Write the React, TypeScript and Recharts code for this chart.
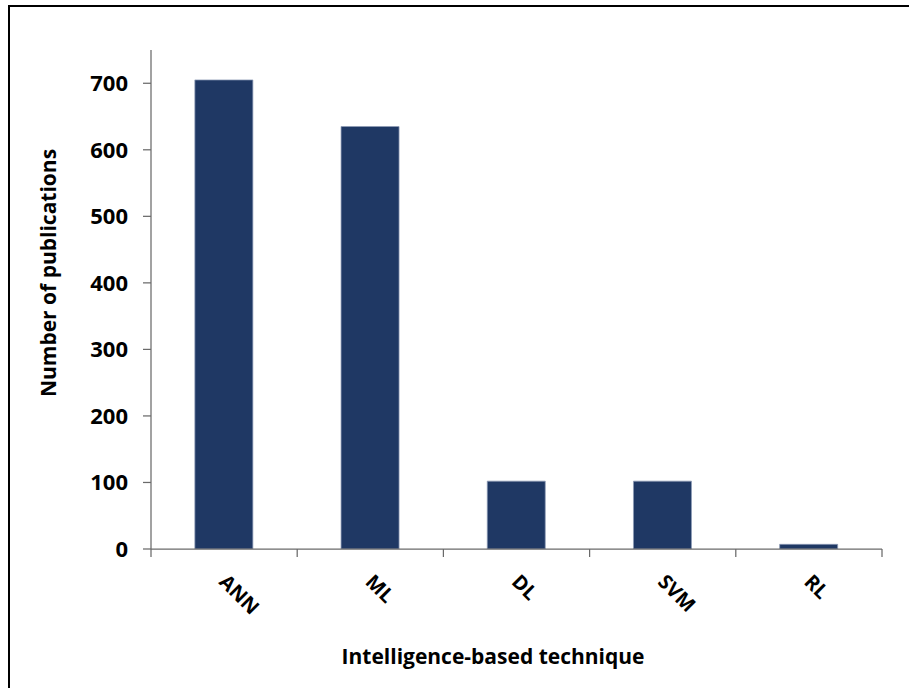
import React from 'react';
import { BarChart, Bar, XAxis, YAxis } from 'recharts';

const categories = ['ANN', 'ML', 'DL', 'SVM', 'RL'];
const publications = [705, 635, 102, 102, 7];
const yTicks = [0, 100, 200, 300, 400, 500, 600, 700];
const yMax = 750;

const data = categories.map((c, i) => ({ technique: c, count: publications[i] }));

const FONT = '"Open Sans", Lato, sans-serif';
const AXIS = '#6a6a6a';
const BAR = '#1f3864';

function XTick(props: any) {
  const { x, y, payload, index, visibleTicksCount } = props;
  const half = payload && payload.offset ? payload.offset : 73.1;
  const last = index === (visibleTicksCount ?? categories.length) - 1;
  const tx = x - 6;
  const ty = y + 34;
  return (
    <g>
      <line x1={x - half} x2={x - half} y1={y} y2={y + 8} stroke={AXIS} strokeWidth={1.25} />
      {last && <line x1={x + half} x2={x + half} y1={y} y2={y + 8} stroke={AXIS} strokeWidth={1.25} />}
      <text
        x={tx}
        y={ty}
        transform={`rotate(45 ${tx} ${ty})`}
        textAnchor="start"
        fontFamily={FONT}
        fontWeight={700}
        fontSize={20}
        fill="#000"
      >
        {payload.value}
      </text>
    </g>
  );
}

function XTitle() {
  return (
    <text x={493} y={664} textAnchor="middle" fontFamily={FONT} fontWeight={700} fontSize={21} fill="#000">
      Intelligence-based technique
    </text>
  );
}

function YTitle() {
  return (
    <text
      x={56}
      y={273}
      transform="rotate(-90 56 273)"
      textAnchor="middle"
      fontFamily={FONT}
      fontWeight={700}
      fontSize={21}
      fill="#000"
    >
      Number of publications
    </text>
  );
}

export default function App() {
  return (
    <div style={{ position: 'absolute', left: 0, top: 0, width: 909, height: 688, background: '#fff', overflow: 'hidden' }}>
      <div
        style={{
          position: 'absolute',
          left: 8,
          top: 5,
          right: 0,
          bottom: 0,
          borderTop: '2px solid #000',
          borderLeft: '2px solid #000',
        }}
      />
      <div style={{ position: 'absolute', left: 0, top: 0 }}>
        <BarChart width={909} height={688} data={data} margin={{ top: 50, right: 27, bottom: 0, left: 0 }} barCategoryGap="30%">
          <XAxis
            dataKey="technique"
            height={139}
            tickSize={0}
            tickMargin={0}
            tickLine={false}
            interval={0}
            axisLine={{ stroke: AXIS, strokeWidth: 1.25 }}
            tick={<XTick />}
            label={<XTitle />}
          />
          <YAxis
            width={151}
            domain={[0, yMax]}
            ticks={yTicks}
            allowDataOverflow
            tickSize={8}
            tickMargin={15}
            axisLine={{ stroke: AXIS, strokeWidth: 1.25 }}
            tickLine={{ stroke: AXIS, strokeWidth: 1.25 }}
            tick={{ fontFamily: FONT, fontWeight: 700, fontSize: 22, fill: '#000' }}
            label={<YTitle />}
          />
          <Bar dataKey="count" fill={BAR} stroke="#8e9bb5" strokeWidth={0.75} isAnimationActive={false} />
        </BarChart>
      </div>
    </div>
  );
}
